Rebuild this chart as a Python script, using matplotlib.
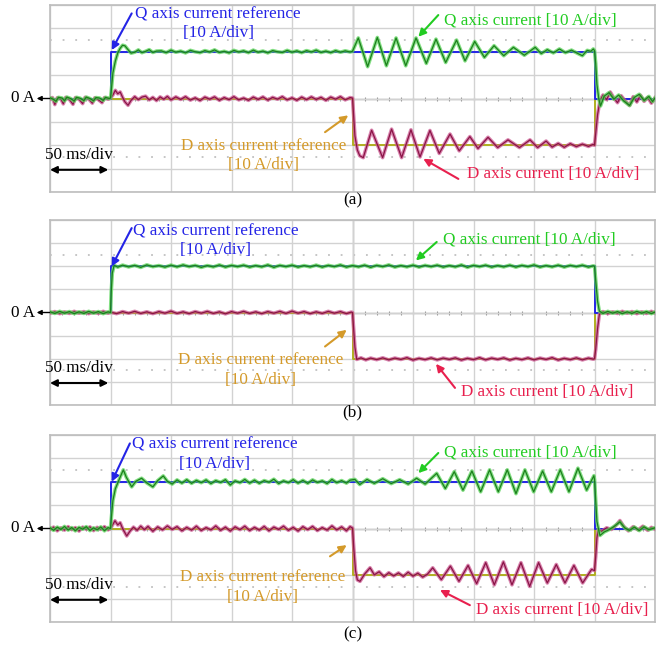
import numpy as np
import matplotlib
matplotlib.use("Agg")
import matplotlib.pyplot as plt

plt.rcParams['font.family'] = ['Liberation Serif', 'DejaVu Serif']

# ---------------- data (time in ms, current in A) ----------------
TIME_DIVS = [0, 50, 100, 150, 200, 250, 300, 350, 400, 450, 500]
CURRENT_DIVS = [-40, -30, -20, -10, 0, 10, 20, 30, 40]

Q_REF = [(0, 0), (50, 0), (50, 20), (450, 20), (450, 0), (500, 0)]
D_REF = [(0, 0), (250, 0), (250, -20), (450, -20), (450, 0), (500, 0)]

Q_CUR_A = [(0,0.3),(3,-0.4),(5,-1.2),(7,0.5),(10,0.2),(12,-1.0),(14,0.6),(17,0.0),(20,-1.1),(22,0.5),(25,0.1),(28,-0.9),(30,0.6),(33,0.0),(36,-1.0),(38,0.4),(41,0.2),(44,-0.8),(46,0.5),(49,0.0),(50,0.2),
    (50.6,3.0),(52,11.0),(54,16.0),(56,19.5),(58,21.5),(60,22.8),(62,22.5),(64,21.2),(67,19.4),(70,19.8),(73,20.8),(76,19.6),(79,20.2),(82,20.9),(85,19.7),(88,20.3),
    (92,20.4),(96,19.6),(100,20.7),(104,19.8),(108,20.3),(112,19.5),(116,20.6),(120,20.0),(124,19.6),(128,20.5),(132,19.9),(136,20.8),(140,19.7),(144,20.2),(148,19.5),(152,20.6),(156,19.9),(160,20.4),(164,19.6),(168,20.7),(172,19.8),(176,20.3),(180,19.5),(184,20.5),(188,20.0),(192,19.7),(196,20.6),(200,19.8),(204,20.4),(208,19.6),(212,20.5),(216,19.9),(220,20.7),(224,19.7),(228,20.3),(232,19.6),(236,20.5),(240,19.8),(244,20.4),(248,19.9),
    (250,20.2),(254.8,25.9),(262.5,13.6),(270.5,26.1),(278,14.0),(286,25.9),(294,14.0),(302.5,25.9),(311,15.0),(319,25.4),(327,15.4),(336,25.0),(343,16.1),(351,24.4),(359,17.6),(367,22.6),(375,18.3),(383,21.9),(392,18.5),(401,21.9),(406,19.2),(411,20.9),(416,19.5),(421,21.2),(426,19.6),(431,20.7),(436,19.3),(440,18.3),(444,20.6),(447,20.2),(449,21.2),(450,20.5),
    (451,15.0),(452,6.0),(453.5,0.0),(455,-3.2),(458,1.0),(462,2.5),(466,-0.3),(470,1.5),(474,-1.0),(479,-3.0),(483,0.5),(487,1.8),(491,-0.8),(495,0.9),(498,-1.3),(500,0.2)]

D_CUR_A = [(0,-0.3),(2,0.4),(4,-2.6),(6,0.3),(9,-0.2),(11,-2.3),(13,0.5),(16,-0.4),(19,-2.5),(21,0.4),(24,-0.3),(27,-2.2),(29,0.5),(32,-0.2),(35,-2.0),(37,0.3),(40,-0.5),(43,-1.8),(45,0.4),(48,-0.3),(50,0.2),
    (52,1.5),(54,3.5),(56,2.0),(58,2.8),(60,0.5),(62,-1.5),(64.5,-2.9),(67,-0.8),(70,0.8),(73,-0.5),(76,0.6),(79,1.0),(82,-0.6),(85,0.5),(88,-0.9),(91,0.7),(94,-0.3),(97,0.9),
    (100,-0.6),(104,0.7),(108,-0.4),(112,0.8),(116,-0.7),(120,0.3),(124,-0.9),(128,0.6),(132,-0.3),(136,0.7),(140,-0.8),(144,0.4),(148,-0.5),(152,0.8),(156,-0.6),(160,0.2),(164,-0.8),(168,0.6),(172,-0.4),(176,0.7),(180,-0.7),(184,0.5),(188,-0.3),(192,0.8),(196,-0.6),(200,0.3),(204,-0.8),(208,0.6),(212,-0.5),(216,0.7),(220,-0.4),(224,0.5),(228,-0.8),(232,0.6),(236,-0.3),(240,0.8),(244,-0.6),(248,0.4),
    (250,0.2),(250.8,-6.0),(252,-16.0),(254,-22.0),(256,-24.5),(258.9,-25.3),(265.8,-13.6),(274.9,-25.3),(282.3,-13.1),(290.6,-25.3),(298.3,-13.4),(305.8,-25.0),(314,-13.7),(321.7,-23.5),(330.6,-15.2),(338.2,-22.4),(347,-16.3),(353.7,-21.4),(362,-16.6),(370,-21.0),(378.5,-17.7),(388,-21.0),(396.7,-17.7),(403,-21.0),(410,-18.2),(415,-20.8),(420,-19.2),(425,-20.9),(430,-19.3),(435,-20.6),(440,-19.5),(445,-20.5),(449,-19.6),(450,-20.0),
    (451,-15.0),(452.5,-7.0),(454.5,-1.0),(457,1.5),(460,-0.5),(463,2.8),(466,0.2),(469,-1.8),(472,1.2),(475,-0.8),(479,-3.0),(482,0.8),(485,-1.5),(488,1.4),(491,-1.2),(494,0.5),(497,-2.0),(500,0.3)]

Q_CUR_B = [(0,0.3),(4,-0.4),(8,0.5),(12,-0.3),(16,0.4),(20,-0.5),(24,0.3),(28,-0.4),(32,0.5),(36,-0.3),(40,0.4),(44,-0.5),(48,0.3),(50,0.0),
    (50.6,9.0),(51.5,17.0),(53,20.4),(56,19.6),(60,20.5),(65,19.7),(70,20.4),(75,19.5),(80,20.6),(85,19.8),(90,20.3),(95,19.6),(100,20.5),(105,19.7),(110,20.6),(115,19.8),(120,20.4),(125,19.5),(130,20.3),(135,19.7),(140,20.6),(145,19.6),(150,20.4),(155,19.8),(160,20.5),(165,19.6),(170,20.3),(175,19.7),(180,20.6),(185,19.5),(190,20.4),(195,19.8),(200,20.5),(205,19.6),(210,20.3),(215,19.7),(220,20.5),(225,19.6),(230,20.4),(235,19.8),(240,20.6),(245,19.6),(250,20.3),(255,19.7),(260,20.5),(265,19.5),(270,20.4),(275,19.8),(280,20.6),(285,19.6),(290,20.3),(295,19.7),(300,20.5),(305,19.6),(310,20.4),(315,19.8),(320,20.5),(325,19.6),(330,20.3),(335,19.7),(340,20.6),(345,19.5),(350,20.4),(355,19.8),(360,20.5),(365,19.6),(370,20.3),(375,19.7),(380,20.5),(385,19.6),(390,20.4),(395,19.8),(400,20.6),(405,19.6),(410,20.3),(415,19.7),(420,20.5),(425,19.6),(430,20.4),(435,19.8),(440,20.5),(445,19.6),(449,20.2),(450,20.0),
    (451,14.0),(452.5,5.0),(454,0.6),(457,-0.4),(461,0.5),(465,-0.3),(469,0.4),(473,-0.5),(477,0.3),(481,-0.4),(485,0.5),(489,-0.3),(493,0.4),(497,-0.5),(500,0.2)]

D_CUR_B = [(0,-0.3),(4,0.4),(8,-0.5),(12,0.3),(16,-0.4),(20,0.5),(24,-0.3),(28,0.4),(32,-0.5),(36,0.3),(40,-0.4),(44,0.5),(48,-0.3),(50,0.2),(55,-0.5),(60,0.4),(65,-0.3),(70,0.5),(75,-0.4),(80,0.3),(85,-0.5),(90,0.4),(95,-0.3),(100,0.6),(105,-0.4),(110,0.3),(115,-0.5),(120,0.4),(125,-0.3),(130,0.5),(135,-0.4),(140,0.3),(145,-0.6),(150,0.4),(155,-0.3),(160,0.5),(165,-0.4),(170,0.3),(175,-0.5),(180,0.4),(185,-0.3),(190,0.5),(195,-0.4),(200,0.6),(205,-0.3),(210,0.4),(215,-0.5),(220,0.3),(225,-0.4),(230,0.5),(235,-0.3),(240,0.4),(245,-0.5),(249,0.2),(250,0.0),
    (250.8,-6.0),(252,-15.0),(253.5,-20.3),(257,-19.6),(261,-20.5),(265,-19.7),(270,-20.4),(275,-19.6),(280,-20.5),(285,-19.7),(290,-20.3),(295,-19.5),(300,-20.6),(305,-19.8),(310,-20.4),(315,-19.6),(320,-20.5),(325,-19.7),(330,-20.3),(335,-19.6),(340,-20.6),(345,-19.8),(350,-20.4),(355,-19.5),(360,-20.5),(365,-19.7),(370,-20.3),(375,-19.6),(380,-20.6),(385,-19.8),(390,-20.4),(395,-19.6),(400,-20.5),(405,-19.7),(410,-20.3),(415,-19.5),(420,-20.6),(425,-19.8),(430,-20.4),(435,-19.6),(440,-20.5),(445,-19.7),(449,-20.2),(450,-20.0),
    (451,-16.0),(452.5,-7.0),(454,-0.8),(457,0.4),(461,-0.5),(465,0.3),(469,-0.4),(473,0.5),(477,-0.3),(481,0.4),(485,-0.5),(489,0.3),(493,-0.4),(497,0.5),(500,-0.2)]

Q_CUR_C = [(0,0.3),(3,-0.8),(6,0.6),(9,-0.4),(12,0.9),(15,-0.7),(18,0.4),(21,-1.0),(24,0.5),(27,-0.3),(30,0.8),(33,-0.9),(36,0.3),(39,-0.6),(42,0.7),(45,-1.0),(48,0.4),(50,0.0),
    (50.6,4.0),(52,12.0),(54,17.0),(56,19.5),(58,22.0),(60.6,25.1),(63,22.0),(67.5,17.8),(71,20.2),(75.7,21.5),(80,19.5),(85,17.8),(89,20.5),(93.6,22.5),(97,20.2),(101,19.0),(105,20.8),(109,19.4),(113,20.9),(117,19.3),(121,20.6),(125,19.6),(129,20.8),(133,19.2),(137,20.5),(141,19.7),(145,20.9),(149,18.6),(153,20.4),(157,19.6),(161,21.0),(165,19.4),(169,20.7),(173,19.3),(177,20.5),(181,19.8),(185,21.1),(189,19.2),(193,20.4),(197,19.6),(201,20.9),(205,19.4),(209,20.6),(213,19.3),(217,20.8),(221,19.7),(225,20.4),(229,19.2),(233,21.0),(237,19.6),(241,20.5),(245,19.4),(248,20.7),
    (252,21.0),(256,18.8),(262,21.0),(268,19.3),(275,21.3),(282,19.2),(289,20.9),(296,19.0),(303,21.5),(310,19.0),
    (319.6,23.6),(326.7,17.1),(334.1,24.3),(341.3,16.4),(348.7,24.6),(355.9,15.7),(363.3,25.1),(370.5,15.7),(377.9,25.1),(385.1,14.9),(392.5,25.1),(399.7,15.7),(407.1,24.6),(414.3,15.7),(421.7,25.1),(428.9,15.7),(436.3,25.8),(443.5,16.4),(449.5,22.6),(450,21.0),
    (451,12.0),(452,3.0),(453,0.5),(454.5,-3.0),(458,-1.5),(462,-0.5),(466,0.8),(471,2.8),(475,0.2),(479,-0.8),(483,0.6),(487,-0.9),(491,0.7),(495,-0.5),(500,0.3)]

D_CUR_C = [(0,-0.4),(3,0.6),(6,-1.0),(9,0.3),(12,-0.7),(15,0.8),(18,-0.5),(21,0.4),(24,-1.1),(27,0.6),(30,-0.3),(33,0.7),(36,-0.9),(39,0.5),(42,-0.4),(45,0.8),(48,-0.6),(50,0.0),
    (52,1.8),(53.7,3.3),(56,1.5),(58,2.5),(60,0.0),(63.4,-3.2),(66,-1.2),(69,0.6),(72,-0.8),(75,1.0),(78,-0.5),(81,0.9),(85,-1.2),(89,0.7),(93,-0.6),(97,1.1),(101,-0.4),(105,0.8),(109,-1.0),(113,0.5),(117,-0.7),(121,1.0),(125,-0.9),(129,0.4),(133,-0.6),(137,1.1),(141,-0.8),(145,0.6),(149,-1.1),(153,0.7),(157,-0.5),(161,1.0),(165,-0.9),(169,0.5),(173,-0.7),(177,0.9),(181,-1.0),(185,0.6),(189,-0.4),(193,1.0),(197,-0.8),(201,0.5),(205,-1.1),(209,0.8),(213,-0.5),(217,0.9),(221,-0.9),(225,0.4),(229,-0.7),(233,1.1),(237,-0.6),(241,0.7),(245,-1.0),(248,0.8),(250,0.2),
    (251,-8.0),(252.5,-18.0),(254,-22.0),(256.2,-22.6),(260,-19.5),(264.5,-16.8),(268,-19.8),(272,-18.5),(276,-20.6),(280,-18.9),(284,-20.3),(288,-19.0),(292,-20.5),(296,-18.7),(300,-20.4),(304,-19.1),(308,-20.8),(312,-19.5),
    (316.3,-16.8),(323.4,-21.9),(330.9,-16.1),(338,-22.6),(345.5,-15.8),(352.6,-23.6),(360.1,-14.6),(367.2,-24.1),(374.7,-14.3),(381.8,-24.1),(389.2,-14.6),(396.4,-24.8),(403.8,-14.6),(411,-23.3),(418.4,-15.4),(425.6,-23.3),(433,-15.8),(440.2,-23.3),(447.6,-17.5),(450,-18.0),
    (451,-12.0),(452,-4.0),(453,-0.5),(456,-1.2),(460,0.3),(464,-0.4),(468,1.5),(471,3.4),(474,1.0),(478,-1.0),(482,0.8),(486,-0.6),(490,1.0),(494,-0.8),(497,0.5),(500,-0.3)]

PANEL_LABELS = ['(a)', '(b)', '(c)']
TXT_QREF = 'Q axis current reference\n[10 A/div]'
TXT_QCUR = 'Q axis current [10 A/div]'
TXT_DREF = 'D axis current reference\n[10 A/div]'
TXT_DCUR = 'D axis current [10 A/div]'
TXT_ZERO = '0 A'
TXT_TIME = '50 ms/div'

# ---------------- styles / layout ----------------
C_QREF = '#2424e6'
C_QCUR_T = '#22cc22'
C_DREF = '#b0b020'
C_DREF_T = '#d49a2a'
C_DCUR_T = '#e8204e'
FS = 12.3
LSP = 1.28

W, H = 662, 647
fig = plt.figure(figsize=(W / 100, H / 100), dpi=100)

# axes pixel boxes (left, top, right, bottom)
boxes = [(50, 5, 655, 192), (50, 220, 655, 405), (50, 435, 655, 622)]

layout = [
    dict(qref=(139, 32), qref_a=((67.5, 36.4), (51, 20.7)), qcur=(397, 33.3), qcur_a=((320.9, 35.7), (304.4, 26.4)),
         dref=(176.4, -24.5), dref_a=((227.3, -14.4), (246.5, -7.2)), dcur=(416, -32.2), dcur_a=((337.5, -34.4), (308.5, -25.8)),
         lab=-43.7),
    dict(qref=(137, 31), qref_a=((67.5, 36.5), (51, 19.9)), qcur=(396, 31.5), qcur_a=((319.6, 30.5), (302.4, 22.5)),
         dref=(174, -24.8), dref_a=((227.3, -14.7), (245.2, -7.5)), dcur=(411, -34.2), dcur_a=((334.7, -32.6), (319, -22.2)),
         lab=-43.0),
    dict(qref=(136, 31.8), qref_a=((66, 36.4), (51, 20)), qcur=(397, 32.3), qcur_a=((320.9, 32.3), (304.4, 23.7)),
         dref=(175.6, -25.1), dref_a=((231.4, -11.9), (245.2, -7.1)), dcur=(423.5, -35), dcur_a=((347, -32.8), (322.3, -26.3)),
         lab=-45.3),
]

currents = [(Q_CUR_A, D_CUR_A), (Q_CUR_B, D_CUR_B), (Q_CUR_C, D_CUR_C)]


def unzip(pairs):
    a = np.array(pairs, dtype=float)
    return a[:, 0], a[:, 1]


for i, (box, lay, (qc, dc)) in enumerate(zip(boxes, layout, currents)):
    l, t, r, b = box
    ax = fig.add_axes([l / W, 1 - b / H, (r - l) / W, (b - t) / H])
    ax.set_xlim(TIME_DIVS[0], TIME_DIVS[-1])
    ax.set_ylim(CURRENT_DIVS[0], CURRENT_DIVS[-1])
    ax.set_xticks(TIME_DIVS)
    ax.set_yticks(CURRENT_DIVS)
    ax.tick_params(length=0, labelbottom=False, labelleft=False)
    ax.grid(True, color='#d2d2d2', lw=1.0)
    for s in ax.spines.values():
        s.set_color('#bdbdbd')
        s.set_linewidth(1.2)
    # centre cross and dotted markers
    ax.axhline(0, color='#a8a8a8', lw=1.0, zorder=1)
    ax.axvline(250, color='#a8a8a8', lw=1.0, zorder=1)
    ax.plot(np.arange(0, 501, 10), np.zeros(51), ls='none', marker='|', ms=3,
            color='#999999', mew=0.8, zorder=1)
    for yy in (25, -25):
        ax.axhline(yy, color='#c0c0c0', lw=1.3, ls=(0, (1, 6)), zorder=1)

    # references
    tx, vy = unzip(D_REF)
    ax.plot(tx, vy, color=C_DREF, lw=1.4, zorder=2)
    tx, vy = unzip(Q_REF)
    ax.plot(tx, vy, color=C_QREF, lw=1.4, zorder=2)
    # currents (halo + core)
    tx, vy = unzip(dc)
    ax.plot(tx, vy, color='#cc5a92', lw=2.6, alpha=0.75, zorder=3, solid_joinstyle='round')
    ax.plot(tx, vy, color='#8a1446', lw=0.9, zorder=4)
    tx, vy = unzip(qc)
    ax.plot(tx, vy, color='#5ad45a', lw=2.6, alpha=0.75, zorder=5, solid_joinstyle='round')
    ax.plot(tx, vy, color='#1c7f1c', lw=0.9, zorder=6)

    # annotations
    ax.text(*lay['qref'], TXT_QREF, color=C_QREF, fontsize=FS, ha='center', va='center', linespacing=LSP, zorder=8)
    ax.annotate('', xy=lay['qref_a'][1], xytext=lay['qref_a'][0],
                arrowprops=dict(arrowstyle='-|>', color=C_QREF, lw=1.5, mutation_scale=11, shrinkA=0, shrinkB=0), zorder=8)
    ax.text(*lay['qcur'], TXT_QCUR, color=C_QCUR_T, fontsize=FS, ha='center', va='center', zorder=8)
    ax.annotate('', xy=lay['qcur_a'][1], xytext=lay['qcur_a'][0],
                arrowprops=dict(arrowstyle='-|>', color=C_QCUR_T, lw=1.5, mutation_scale=11, shrinkA=0, shrinkB=0), zorder=8)
    ax.text(*lay['dref'], TXT_DREF, color=C_DREF_T, fontsize=FS, ha='center', va='center', linespacing=LSP, zorder=8)
    ax.annotate('', xy=lay['dref_a'][1], xytext=lay['dref_a'][0],
                arrowprops=dict(arrowstyle='-|>', color=C_DREF_T, lw=1.5, mutation_scale=11, shrinkA=0, shrinkB=0), zorder=8)
    ax.text(*lay['dcur'], TXT_DCUR, color=C_DCUR_T, fontsize=FS, ha='center', va='center', zorder=8)
    ax.annotate('', xy=lay['dcur_a'][1], xytext=lay['dcur_a'][0],
                arrowprops=dict(arrowstyle='-|>', color=C_DCUR_T, lw=1.5, mutation_scale=11, shrinkA=0, shrinkB=0), zorder=8)

    # 0 A marker
    ax.text(-12.5, 0, TXT_ZERO, color='black', fontsize=FS, ha='right', va='center', clip_on=False)
    ax.annotate('', xy=(-11, 0), xytext=(0, 0),
                arrowprops=dict(arrowstyle='-|>', color='black', lw=1.0, mutation_scale=7, shrinkA=0, shrinkB=0),
                annotation_clip=False)
    # time scale
    ax.text(24, -24, TXT_TIME, color='black', fontsize=FS, ha='center', va='center', zorder=8)
    ax.annotate('', xy=(0, -30.5), xytext=(48.2, -30.5),
                arrowprops=dict(arrowstyle='<|-|>', color='black', lw=1.5, mutation_scale=10, shrinkA=0, shrinkB=0), zorder=8)
    # panel label
    ax.text(250, lay['lab'], PANEL_LABELS[i], color='black', fontsize=FS, ha='center', va='center', clip_on=False)

fig.savefig('out.png', dpi=100, facecolor='white')
